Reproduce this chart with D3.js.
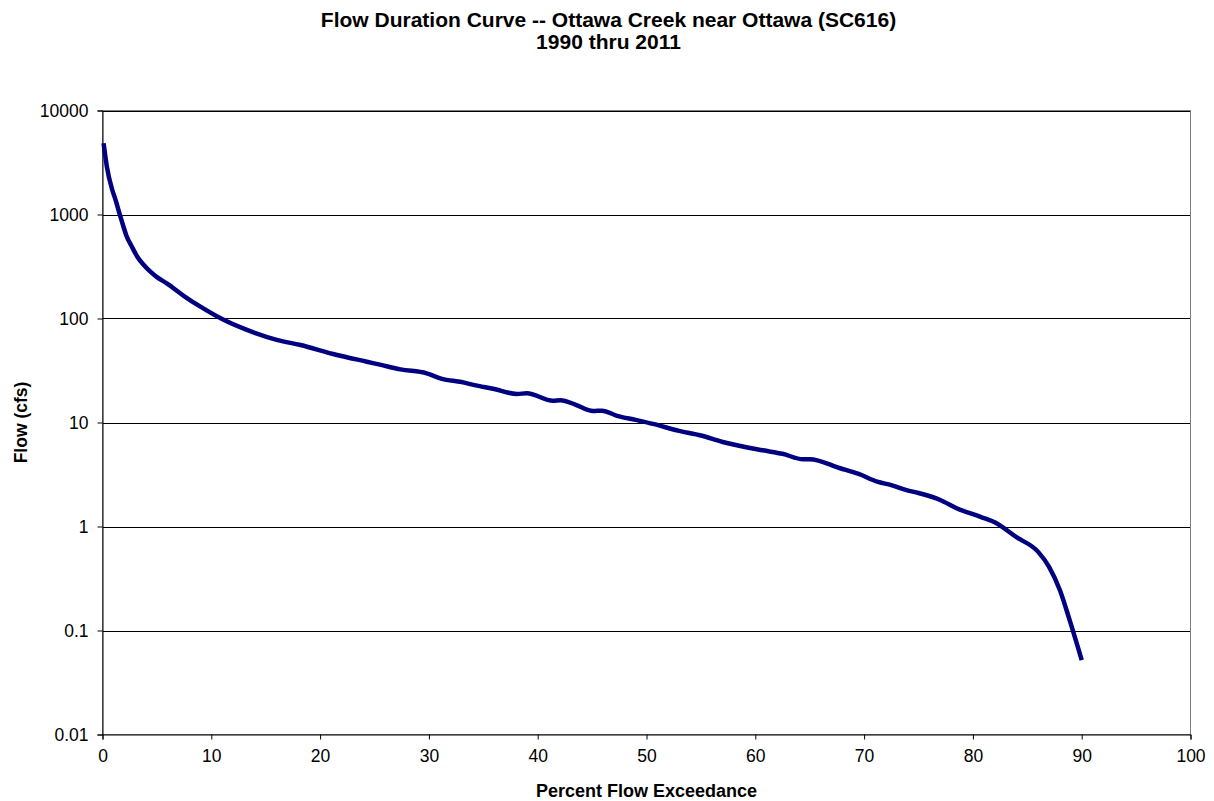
<!DOCTYPE html>
<html><head><meta charset="utf-8">
<script src="https://cdn.jsdelivr.net/npm/d3@7"></script>
<style>body{margin:0;background:#fff;font-family:"Liberation Sans",Arial,sans-serif;}</style>
</head><body>
<svg id="c" width="1214" height="801"></svg>
<script>
const titleLines = ["Flow Duration Curve -- Ottawa Creek near Ottawa (SC616)", "1990 thru 2011"];
const xLabel = "Percent Flow Exceedance";
const yLabel = "Flow (cfs)";
const xTicks = [0,10,20,30,40,50,60,70,80,90,100];
const yTicks = [0.01,0.1,1,10,100,1000,10000];
const pct = [0.1,0.4,0.9,1.2,1.6,1.9,2.2,2.7,3.2,3.8,4.4,5.0,5.9,7.8,9,10.9,13.1,16.1,18.2,21.2,24.3,25.5,27.4,29.8,31.2,33,34.1,36,38.1,39.0,41.4,42.1,43.5,45.1,45.9,47.3,49,50.6,53,55,57,60.7,62.5,64.4,65,67.8,69.5,71.2,72.5,73.9,75,77,78.5,80.7,82,84,86,87,88,88.9,90];
const flow = [4840,2890,1720,1380,990,780,625,490,393,327,282,250,218,156,130,100,79,62,55.6,45.6,38.4,36,32.4,29.7,26.3,24.5,23,21,18.8,19.1,16.2,16.4,14.8,12.9,13.0,11.6,10.6,9.7,8.3,7.5,6.5,5.4,5.0,4.43,4.43,3.63,3.2,2.7,2.5,2.24,2.1,1.8,1.5,1.24,1.1,0.79,0.57,0.41,0.244,0.125,0.052];

const svg = d3.select("#c");
const L=102.5, R=1190.5, T=110.5, B=734.5;
const x = d3.scaleLinear().domain([0,100]).range([L,R]);
const y = d3.scaleLog().domain([0.01,10000]).range([B,T]);

svg.append("g").selectAll("line").data(yTicks.slice(1)).join("line")
  .attr("x1",L).attr("x2",R).attr("y1",d=>Math.round(y(d))+0.5).attr("y2",d=>Math.round(y(d))+0.5)
  .attr("stroke","#000").attr("stroke-width",1);
svg.append("rect").attr("x",L).attr("y",T).attr("width",R-L).attr("height",B-T)
  .attr("fill","none").attr("stroke","#808080");

const fmt = d => String(d);
const yAxis = d3.axisLeft(y).tickValues(yTicks).tickFormat(fmt).tickSize(5).tickPadding(9);
const gy = svg.append("g").attr("transform",`translate(${L},0)`).call(yAxis);
const xAxis = d3.axisBottom(x).tickValues(xTicks).tickSize(5).tickPadding(10);
const gx = svg.append("g").attr("transform",`translate(0,${B})`).call(xAxis);
[gx,gy].forEach(g=>{
  g.attr("font-family","Liberation Sans, Arial, sans-serif").attr("font-size",17.5);
  g.selectAll("text").attr("fill","#000");
  g.selectAll("line,path").attr("stroke","#000");
});

const data = pct.map((p,i)=>({p, v:flow[i]}));
svg.append("path").datum(data)
  .attr("d", d3.line().curve(d3.curveMonotoneX).x(d=>x(d.p)).y(d=>y(d.v)))
  .attr("fill","none").attr("stroke","#000080").attr("stroke-width",4.5).attr("stroke-linejoin","round");

svg.append("text").attr("x",608.5).attr("y",27).attr("text-anchor","middle")
  .attr("font-weight","bold").attr("font-size",21).text(titleLines[0]);
svg.append("text").attr("x",608.5).attr("y",49).attr("text-anchor","middle")
  .attr("font-weight","bold").attr("font-size",21).text(titleLines[1]);
svg.append("text").attr("x",(L+R)/2).attr("y",797).attr("text-anchor","middle")
  .attr("font-weight","bold").attr("font-size",18).text(xLabel);
svg.append("text").attr("transform",`translate(26.5,${(T+B)/2}) rotate(-90)`).attr("text-anchor","middle")
  .attr("font-weight","bold").attr("font-size",17.5).text(yLabel);
</script>
</body></html>
